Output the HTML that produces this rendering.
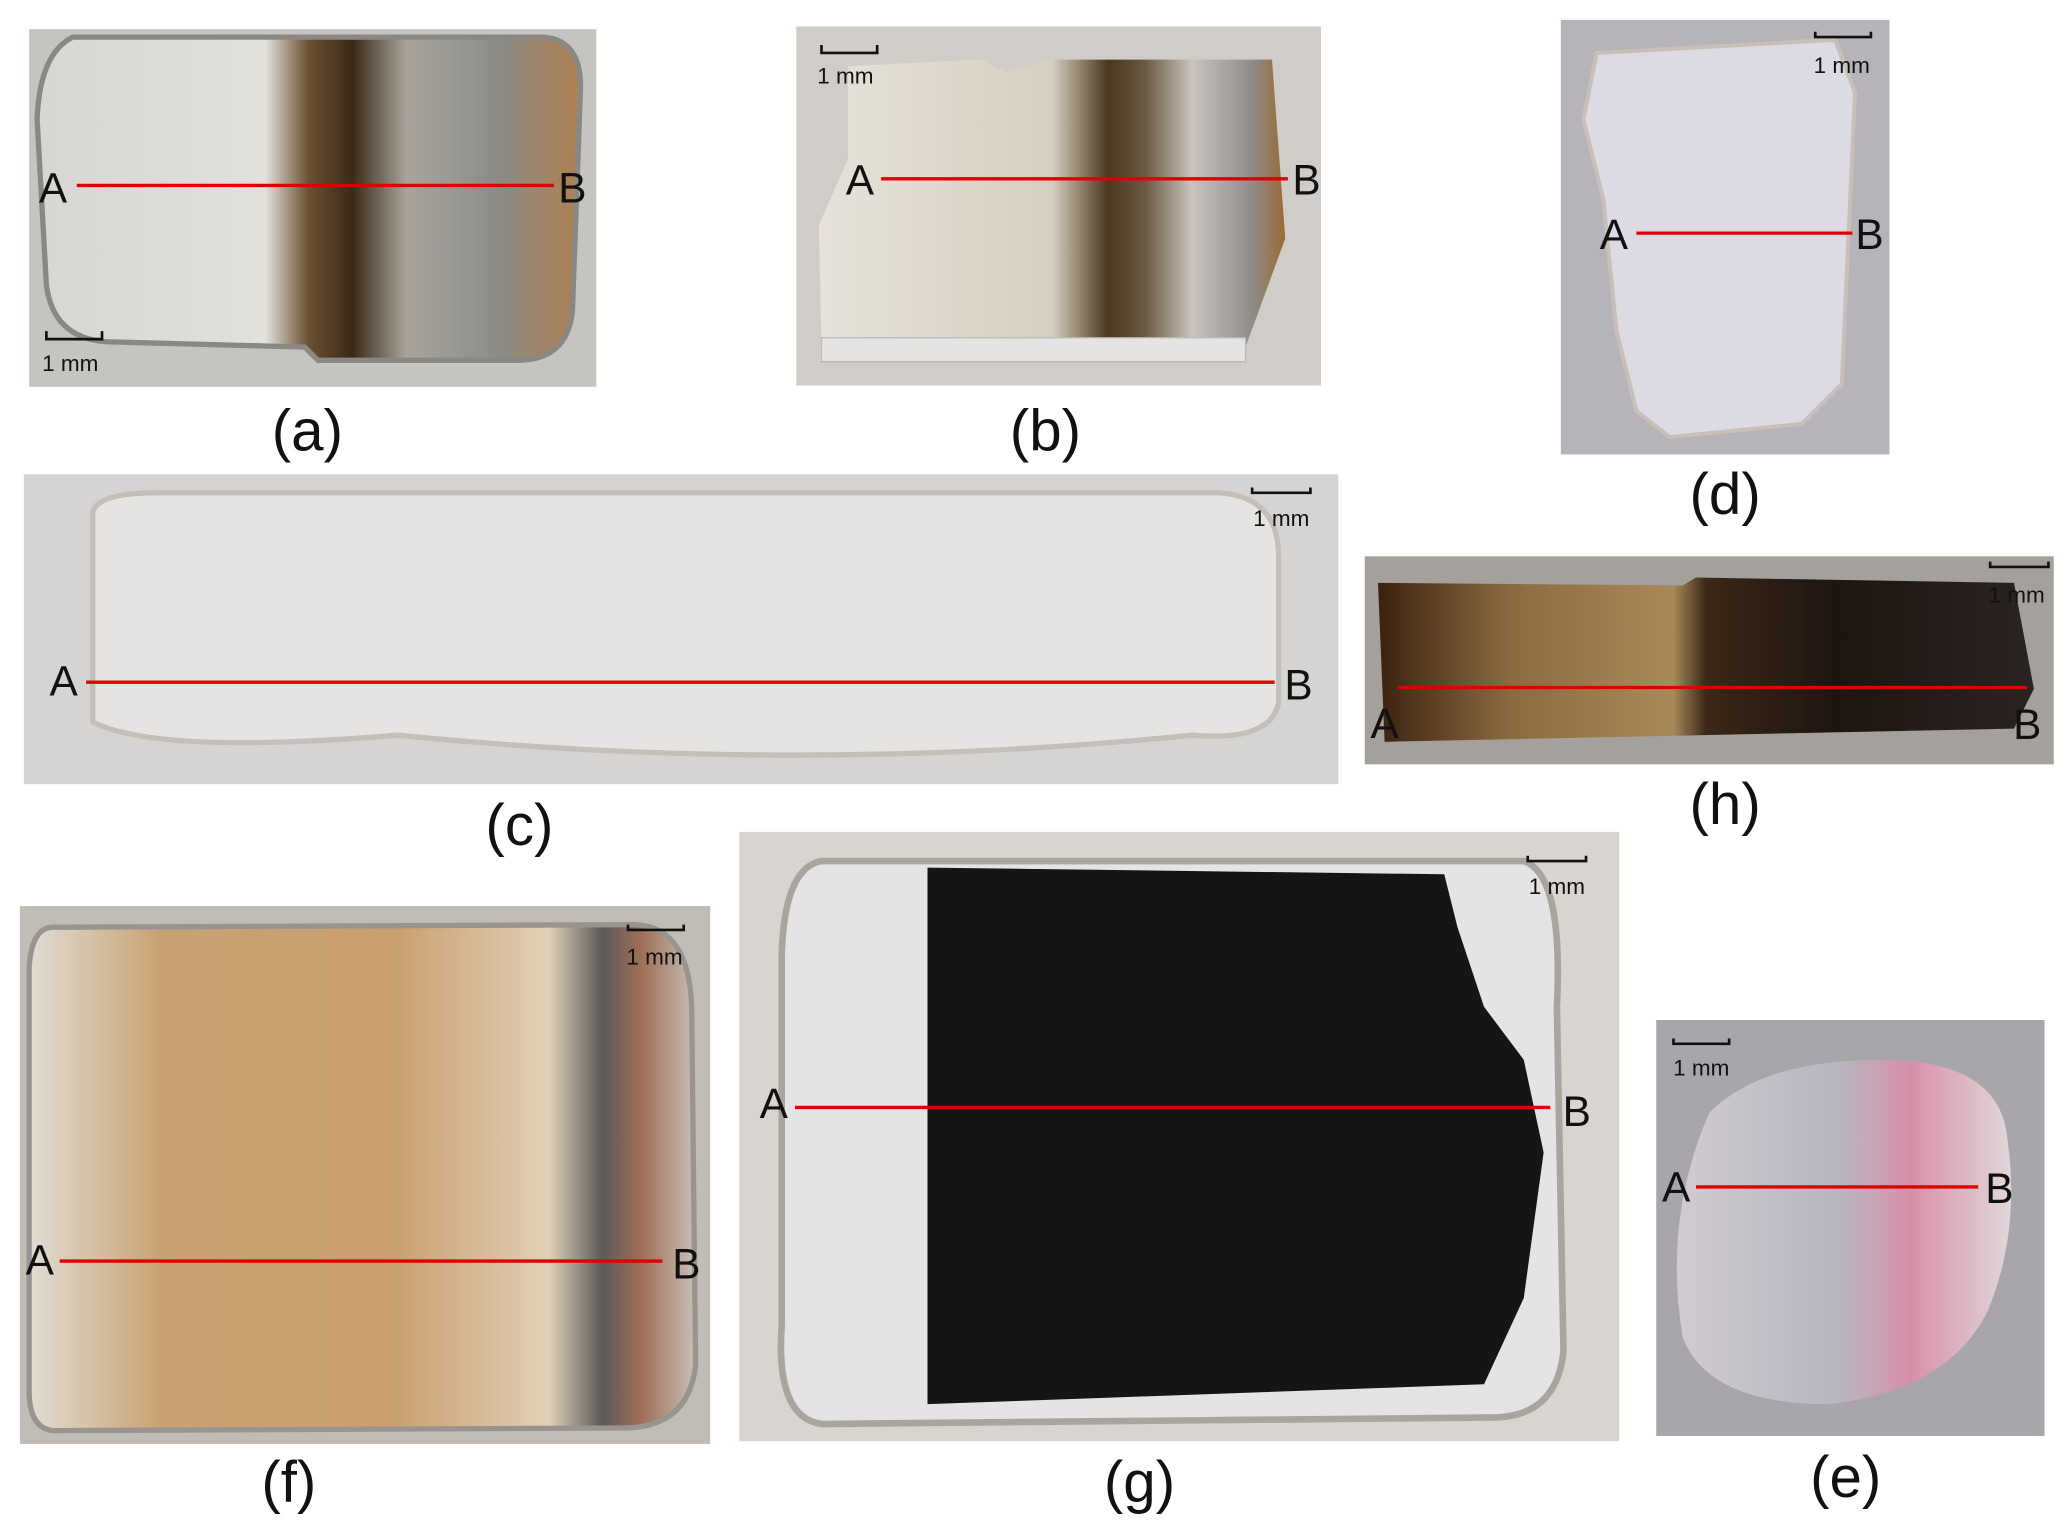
<!DOCTYPE html>
<html><head><meta charset="utf-8"><style>
html,body{margin:0;padding:0;background:#fff;}
svg{display:block;}
text{font-family:"Liberation Sans",Arial,sans-serif;}
</style></head><body>
<svg width="2067" height="1530" viewBox="0 0 1560 1155" preserveAspectRatio="none" xmlns="http://www.w3.org/2000/svg">
<defs>
<linearGradient id="ga" x1="0" x2="1" y1="0" y2="0">
<stop offset="0" stop-color="#d8d6d2"/><stop offset="0.42" stop-color="#e2e0dc"/><stop offset="0.5" stop-color="#6a5030"/><stop offset="0.58" stop-color="#3a2a18"/><stop offset="0.68" stop-color="#a8a49c"/><stop offset="0.85" stop-color="#8a8c88"/><stop offset="1" stop-color="#b08050"/></linearGradient>
<linearGradient id="gb" x1="0" x2="1"><stop offset="0" stop-color="#e6e2da"/><stop offset="0.5" stop-color="#d6cfc0"/><stop offset="0.62" stop-color="#4a3820"/><stop offset="0.7" stop-color="#6a5a44"/><stop offset="0.8" stop-color="#c8c4be"/><stop offset="0.93" stop-color="#8e8c8a"/><stop offset="1" stop-color="#9a6a30"/></linearGradient>
<linearGradient id="gh" x1="0" x2="1"><stop offset="0" stop-color="#3a2210"/><stop offset="0.2" stop-color="#8a6a40"/><stop offset="0.45" stop-color="#a88a5a"/><stop offset="0.5" stop-color="#3a2818"/><stop offset="0.7" stop-color="#1e1410"/><stop offset="1" stop-color="#2a2420"/></linearGradient>
<linearGradient id="gf" x1="0" x2="1"><stop offset="0" stop-color="#e0dcd4"/><stop offset="0.2" stop-color="#c8a272"/><stop offset="0.55" stop-color="#caa070"/><stop offset="0.78" stop-color="#e0d0b8"/><stop offset="0.86" stop-color="#5a5a5a"/><stop offset="0.92" stop-color="#a07058"/><stop offset="1" stop-color="#c8c0b8"/></linearGradient>
<linearGradient id="ge" x1="0" x2="1"><stop offset="0" stop-color="#d0ccd0"/><stop offset="0.5" stop-color="#b8b4c0"/><stop offset="0.7" stop-color="#d890a8"/><stop offset="1" stop-color="#e0d8d8"/></linearGradient>
</defs>
<g font-size="44" text-anchor="middle" fill="#111">
<!-- (a) -->
<rect x="22" y="22" width="428" height="270" fill="#c6c4c0"/>
<path d="M55 28 L410 28 Q440 30 438 70 L432 235 Q428 272 390 272 L240 272 L230 262 L80 258 Q40 255 35 215 L28 90 Q30 40 55 28Z" fill="url(#ga)" stroke="#8a8884" stroke-width="4"/>
<!-- (b) -->
<rect x="601" y="20" width="396" height="271" fill="#d0ccc8"/>
<path d="M640 50 L740 45 L760 55 L790 45 L960 45 L970 180 L940 262 L620 262 L618 170 L640 120Z" fill="url(#gb)"/>
<rect x="620" y="255" width="320" height="18" fill="#e4e4e4" stroke="#bbb"/>
<!-- (d) -->
<rect x="1178" y="15" width="248" height="328" fill="#b6b4b8"/>
<path d="M1205 40 L1385 30 L1400 70 L1390 290 L1360 320 L1260 330 L1235 310 L1220 250 L1210 150 L1195 90Z" fill="#dcdae2" stroke="#c8c0b8" stroke-width="3"/>
<!-- (c) -->
<rect x="18" y="358" width="992" height="234" fill="#d6d4d2"/>
<path d="M70 390 Q68 372 120 372 L920 372 Q965 375 965 420 L965 530 Q960 560 900 555 Q600 585 300 555 Q120 570 70 545Z" fill="#e6e4e2" stroke="#c4bfb8" stroke-width="4"/>
<!-- (h) -->
<rect x="1030" y="420" width="520" height="157" fill="#a4a09c"/>
<path d="M1040 440 L1270 442 L1280 436 L1520 440 L1535 520 L1520 550 L1045 560 Z" fill="url(#gh)"/>
<!-- (f) -->
<rect x="15" y="684" width="521" height="406" fill="#c2bcb6"/>
<path d="M40 700 L480 698 Q520 700 522 760 L525 1030 Q520 1078 470 1078 L40 1080 Q22 1078 22 1050 L22 730 Q24 700 40 700Z" fill="url(#gf)" stroke="#9a9490" stroke-width="4"/>
<!-- (g) -->
<rect x="558" y="628" width="664" height="460" fill="#d8d4d0"/>
<path d="M620 650 L1150 650 Q1180 660 1175 760 L1180 1020 Q1175 1068 1130 1070 L620 1075 Q585 1070 590 1000 L590 720 Q592 655 620 650Z" fill="#e4e4e4" stroke="#a8a49e" stroke-width="5"/>
<path d="M700 655 L1090 660 L1100 700 L1120 760 L1150 800 L1165 870 L1150 980 L1120 1045 L700 1060Z" fill="#151515"/>
<!-- (e) -->
<rect x="1250" y="770" width="293" height="314" fill="#a8a6aa"/>
<path d="M1290 840 Q1330 800 1420 800 Q1510 800 1515 860 Q1525 930 1500 990 Q1470 1050 1380 1060 Q1290 1060 1270 1010 Q1255 920 1290 840Z" fill="url(#ge)"/>
<!-- red lines -->
<g stroke="#e00000" stroke-width="2.5">
<line x1="58" y1="140" x2="418" y2="140"/>
<line x1="665" y1="135" x2="972" y2="135"/>
<line x1="1235" y1="176" x2="1398" y2="176"/>
<line x1="65" y1="515" x2="962" y2="515"/>
<line x1="1055" y1="519" x2="1530" y2="519"/>
<line x1="45" y1="952" x2="500" y2="952"/>
<line x1="600" y1="836" x2="1170" y2="836"/>
<line x1="1280" y1="896" x2="1493" y2="896"/>
</g>
<g font-size="32">
<text x="40" y="153">A</text><text x="432" y="153">B</text>
<text x="649" y="147">A</text><text x="986" y="147">B</text>
<text x="1218" y="188">A</text><text x="1411" y="188">B</text>
<text x="48" y="525">A</text><text x="980" y="528">B</text>
<text x="1045" y="557">A</text><text x="1530" y="558">B</text>
<text x="30" y="962">A</text><text x="518" y="965">B</text>
<text x="584" y="844">A</text><text x="1190" y="850">B</text>
<text x="1265" y="907">A</text><text x="1509" y="908">B</text>
</g>
<!-- scale bars -->
<g stroke="#111" stroke-width="2" fill="none">
<path d="M35 250v6h42v-6"/><path d="M620 34v6h42v-6" transform="translate(0,0)"/>
<path d="M1370 24v4h42v-4"/><path d="M945 368v4h44v-4"/><path d="M1502 424v4h44v-4"/>
<path d="M474 698v4h42v-4"/><path d="M1153 646v4h44v-4"/><path d="M1263 784v4h42v-4"/>
</g>
<g font-size="17">
<text x="53" y="280">1 mm</text><text x="638" y="63">1 mm</text><text x="1390" y="55">1 mm</text>
<text x="967" y="397">1 mm</text><text x="1522" y="455">1 mm</text><text x="494" y="728">1 mm</text>
<text x="1175" y="675">1 mm</text><text x="1284" y="812">1 mm</text>
</g>
<!-- captions -->
<text x="232" y="340">(a)</text><text x="789" y="340">(b)</text><text x="1302" y="388">(d)</text>
<text x="392" y="638">(c)</text><text x="1302" y="622">(h)</text><text x="218" y="1134">(f)</text>
<text x="860" y="1134">(g)</text><text x="1393" y="1130">(e)</text>
</g>
</svg>
</body></html>
